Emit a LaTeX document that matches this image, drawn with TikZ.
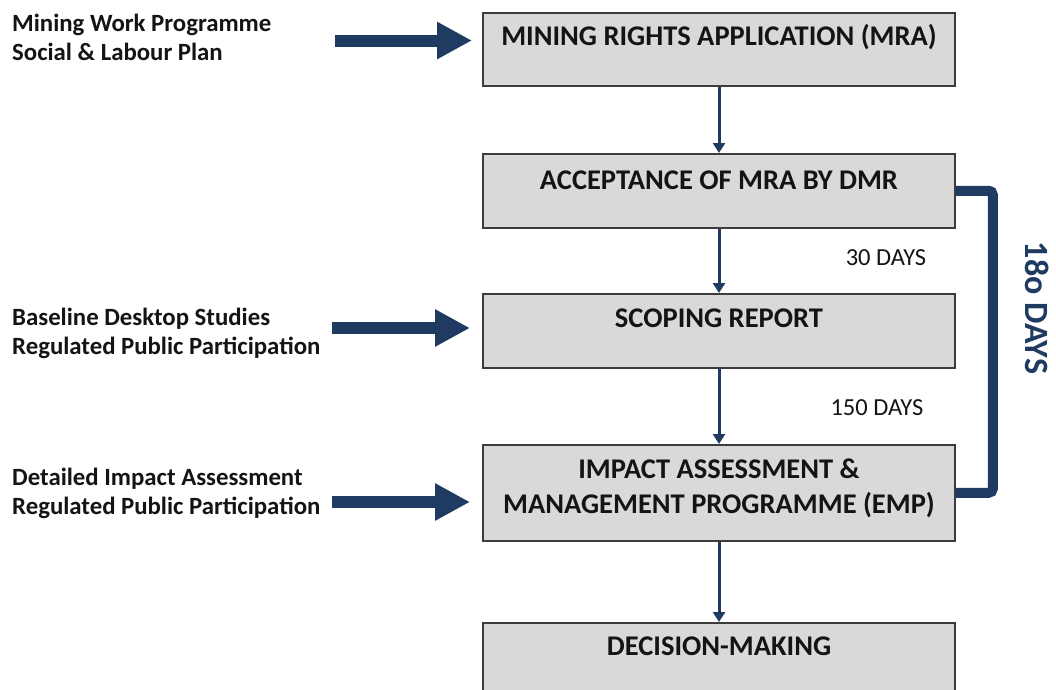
\documentclass[tikz,border=0pt]{standalone}
\usepackage{fontspec}
\setmainfont{Carlito}
\usetikzlibrary{arrows.meta,calc}
\definecolor{navy}{HTML}{1F3B61}
\definecolor{boxgray}{HTML}{D9D9D9}
\definecolor{boxline}{HTML}{3C3C3C}
\definecolor{ink}{HTML}{141414}
\begin{document}
\begin{tikzpicture}[x=1pt,y=-1pt,
  stage/.style={draw=boxline, fill=boxgray, line width=1.5pt, minimum width=472pt, inner sep=0pt, anchor=north},
  stagetext/.style={font=\bfseries\fontsize{28.5}{35}\selectfont, text=ink, anchor=base, align=center, inner sep=0pt},
  sidetext/.style={font=\bfseries\fontsize{24.8}{29}\selectfont, text=ink, anchor=base west, align=left, inner sep=0pt},
  daytext/.style={font=\fontsize{24.5}{28}\selectfont, text=ink, inner sep=0pt},
  varrow/.style={draw=navy, line width=3pt, -{Triangle[width=12pt,length=10pt]}},
  bigarrow/.style={draw=navy, line width=12pt, -{Triangle[width=35pt,length=35pt]}},
  bracketline/.style={draw=navy, line width=10pt, rounded corners=4pt}
]
\useasboundingbox (0,0) rectangle (1056,689);
\fill[white] (0,0) rectangle (1056,689);
\clip (0,0) rectangle (1056,689);

% stage boxes
\node[stage, minimum height=73pt] (mra) at (719,12) {};
\node[stage, minimum height=74pt] (acc) at (719,153) {};
\node[stage, minimum height=74pt] (scope) at (719,293) {};
\node[stage, minimum height=96pt] (eia) at (719,444) {};
\node[stage, minimum height=100pt] (dec) at (719,622) {};

% stage texts (base = last line's baseline)
\node[stagetext] (mrat) at (719,45) {MINING RIGHTS APPLICATION (MRA)};
\node[stagetext] (acct) at (719,189) {ACCEPTANCE OF MRA BY DMR};
\node[stagetext] (scopet) at (719,327) {SCOPING REPORT};
\node[stagetext] (eiat) at (719,513) {IMPACT ASSESSMENT \&\\MANAGEMENT PROGRAMME (EMP)};
\node[stagetext] (dect) at (719,655) {DECISION-MAKING};

% vertical connectors
\draw[varrow] (mra.south) -- (acc.north);
\draw[varrow] (acc.south) -- (scope.north);
\draw[varrow] (scope.south) -- (eia.north);
\draw[varrow] (eia.south) -- (dec.north);

% side inputs
\node[sidetext] (in1) at (12,60) {Mining Work Programme\\Social \& Labour Plan};
\node[sidetext] (in2) at (12,354) {Baseline Desktop Studies\\Regulated Public Participation};
\node[sidetext] (in3) at (12,514) {Detailed Impact Assessment\\Regulated Public Participation};

\coordinate (a1s) at (335,40.5);
\coordinate (a1t) at (472,40.5);
\coordinate (a2s) at (332,328);
\coordinate (a2t) at (470,328);
\coordinate (a3s) at (332,502);
\coordinate (a3t) at (470,502);
\draw[bigarrow] (a1s) -- (a1t);
\draw[bigarrow] (a2s) -- (a2t);
\draw[bigarrow] (a3s) -- (a3t);

% durations
\node[daytext] (d30) at (886,258) {30 DAYS};
\node[daytext] (d150) at (877,408) {150 DAYS};

% 180 days bracket
\draw[bracketline] (acc.east) -- ++(37,0) |- (eia.east);
\node[font=\bfseries\fontsize{34}{40}\selectfont, text=navy, rotate=-90, inner sep=0pt] (d180) at (1037.5,308) {18o DAYS};
\end{tikzpicture}
\end{document}
